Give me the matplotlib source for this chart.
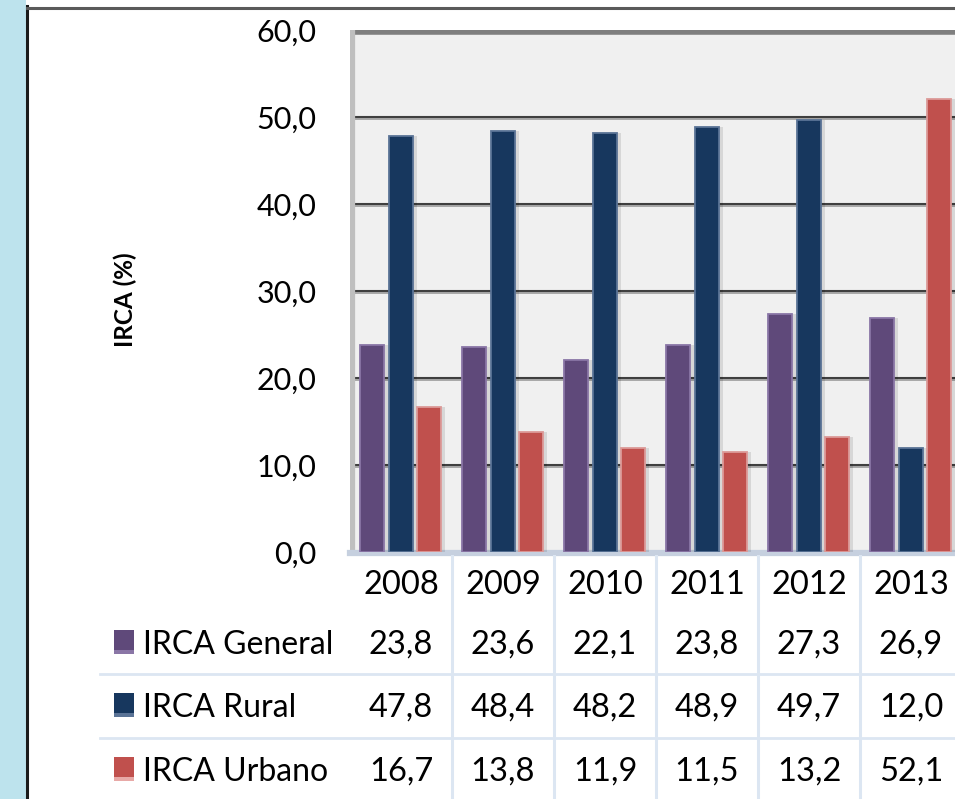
import numpy as np
import matplotlib
matplotlib.use("Agg")
import matplotlib.pyplot as plt
from matplotlib.patches import Rectangle
from matplotlib.transforms import blended_transform_factory

# datos del grafico
anios = ["2008", "2009", "2010", "2011", "2012", "2013"]
series = ["IRCA General", "IRCA Rural", "IRCA Urbano"]
irca_general = [23.8, 23.6, 22.1, 23.8, 27.3, 26.9]
irca_rural = [47.8, 48.4, 48.2, 48.9, 49.7, 12.0]
irca_urbano = [16.7, 13.8, 11.9, 11.5, 13.2, 52.1]
y_ticks = [0, 10, 20, 30, 40, 50, 60]

colores = ["#5f497a", "#17375e", "#c0504d"]
bordes = ["#8a76a6", "#5a7396", "#dc9a98"]

W, H = 955, 799
plt.rcParams['font.family'] = ['Lato', 'DejaVu Sans']


def fx(px):
    return px / W


def fy(py):
    return 1 - py / H


fig = plt.figure(figsize=(W / 100, H / 100), dpi=100)
fig.patch.set_facecolor("white")

# franja azul a la izquierda y marco
fig.patches.append(Rectangle((0, 0), fx(26), 1, transform=fig.transFigure,
                             facecolor="#bde3ed", edgecolor="none", zorder=0))
fig.lines.append(plt.Line2D([fx(27), fx(27)], [0, fy(6)], transform=fig.transFigure,
                            color="#1a1a1a", lw=2.2))
fig.lines.append(plt.Line2D([fx(27), 1], [fy(7.5), fy(7.5)], transform=fig.transFigure,
                            color="#5a5a5a", lw=2.2))

# ejes: cada grupo mide 102 px, el ultimo queda cortado a la derecha
ax = fig.add_axes([fx(350), fy(552), 612 / W, 522 / H])
ax.set_facecolor("#f0f0f0")
ax.set_xlim(0, 6)
ax.set_ylim(0, 60)
for s in ax.spines.values():
    s.set_visible(False)

# lineas de division con sombra
for v in y_ticks[1:-1]:
    ax.axhline(v - 0.25, color="#a8a8a8", lw=1.4, zorder=1)
    ax.axhline(v, color="#3f3f3f", lw=1.5, zorder=1)
ax.axhline(59.75, color="#7f7f7f", lw=4, zorder=1)
ax.axvline(0.02, color="#bfbfbf", lw=4.5, zorder=1)
ax.axhline(-0.1, color="#c6d0df", lw=4.5, zorder=1, clip_on=False)

x = np.arange(len(anios)) + 0.5
ancho = 0.235
desp = [-0.28, 0.0, 0.275]
valores = [irca_general, irca_rural, irca_urbano]
for k in range(3):
    # sombra
    ax.bar(x + desp[k] + 0.035, valores[k], ancho, color="#000000", alpha=0.10,
           zorder=2, linewidth=0)
    ax.bar(x + desp[k], valores[k], ancho, color=colores[k], edgecolor=bordes[k],
           linewidth=1.3, zorder=3)

ax.set_yticks(y_ticks)
ax.set_yticklabels([f"{v:.1f}".replace(".", ",") for v in y_ticks], fontsize=22)
ax.tick_params(axis="y", length=0, pad=24)
ax.set_xticks([])

fig.text(fx(125), fy(300), "IRCA (%)", rotation=90, ha="center", va="center",
         fontsize=17.5, fontweight="bold")

# tabla de datos
tr = blended_transform_factory(ax.transData, fig.transFigure)
for i in range(1, 6):
    fig.lines.append(plt.Line2D([i, i], [0, fy(556)], transform=tr,
                                color="#dce6f2", lw=2.2))
for py in [674, 738]:
    fig.lines.append(plt.Line2D([fx(100), 1], [fy(py), fy(py)],
                                transform=fig.transFigure, color="#dce6f2", lw=2))

for i, a in enumerate(anios):
    fig.text(x[i], fy(594), a, transform=tr, ha="center", va="baseline", fontsize=23.5)

bases = [654, 717, 781]
claros = ["#8a76a6", "#5a7396", "#e8a9a7"]
for k in range(3):
    b = bases[k]
    fig.patches.append(Rectangle((fx(114), fy(b)), fx(20), 24 / H,
                                 transform=fig.transFigure, facecolor=colores[k],
                                 edgecolor="none"))
    fig.patches.append(Rectangle((fx(114), fy(b)), fx(20), 4 / H,
                                 transform=fig.transFigure, facecolor=claros[k],
                                 edgecolor="none"))
    fig.text(fx(143), fy(b), series[k], ha="left", va="baseline", fontsize=23)
    for i in range(len(anios)):
        fig.text(x[i], fy(b), f"{valores[k][i]:.1f}".replace(".", ","), transform=tr,
                 ha="center", va="baseline", fontsize=23.5)

fig.savefig("out.png", dpi=100)
